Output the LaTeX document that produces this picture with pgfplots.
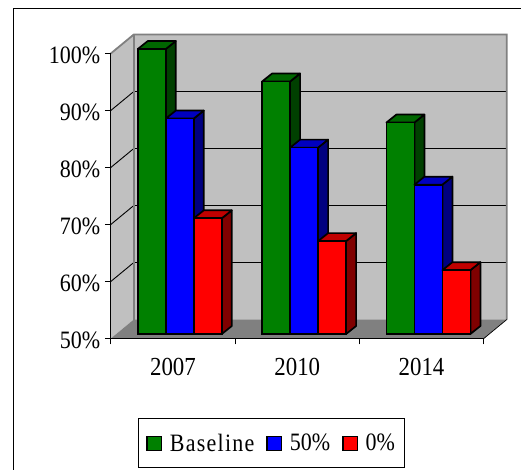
\documentclass[border=0pt]{standalone}
\usepackage{fontspec}
\setmainfont[FakeStretch=0.88]{Liberation Serif}
\usepackage{pgfplots}
\pgfplotsset{compat=1.18}
\definecolor{wall}{RGB}{192,192,192}
\definecolor{floorgray}{RGB}{128,128,128}
\definecolor{gfront}{RGB}{0,128,0}
\definecolor{gtop}{RGB}{0,102,0}
\definecolor{gside}{RGB}{0,64,0}
\definecolor{bfront}{RGB}{0,0,255}
\definecolor{btop}{RGB}{0,0,192}
\definecolor{bside}{RGB}{0,0,128}
\definecolor{rfront}{RGB}{255,0,0}
\definecolor{rtop}{RGB}{192,0,0}
\definecolor{rside}{RGB}{128,0,0}
\newcommand{\chartfont}{\fontsize{25}{27}\selectfont}
% Top and side faces of one bar: left edge, value, top colour, side colour
\newcommand{\barfaces}[4]{%
  \pgfmathsetmacro{\xa}{#1+28}%
  \pgfmathsetmacro{\xb}{#1+38}%
  \pgfmathsetmacro{\xc}{#1+10}%
  \pgfmathsetmacro{\vb}{#2+1.4}%
  \addplot[forget plot,yshift=4.5pt,fill=#4,draw=black,line width=1.7pt,line join=round]
    coordinates {(\xa,50) (\xb,51.4) (\xb,\vb) (\xa,#2)} --cycle;
  \addplot[forget plot,yshift=4.5pt,fill=#3,draw=black,line width=1.7pt,line join=round]
    coordinates {(#1,#2) (\xa,#2) (\xb,\vb) (\xc,\vb)} --cycle;
}
\pgfplotsset{swatch/.style={
  legend image code/.code={
    \draw[##1,yshift=-4.5pt,line width=1.5pt] (0pt,-7pt) rectangle (14.5pt,7pt);
  }}}
\begin{document}
\begin{tikzpicture}[x=1pt,y=1pt]
\path[use as bounding box] (0,0) rectangle (521,470);
\draw[black,line width=1.2pt] (13.5,0) -- (13.5,461.5) -- (521,461.5);
\begin{axis}[
  at={(110.8pt,131.5pt)}, anchor=south west,
  scale only axis, width=372.9pt, height=285pt,
  xmin=0, xmax=372.9, ymin=50, ymax=100,
  clip=false, axis on top,
  axis x line*=bottom, axis y line*=left,
  axis line style={-,line width=1pt},
  tick align=outside, major tick length=6pt,
  tick style={black,line width=1pt},
  xtick={0,124.3,248.6,372.9}, xticklabels={},
  extra x ticks={62.15,186.45,310.75},
  extra x tick labels={2007,2010,2014},
  extra x tick style={major tick length=0pt,xticklabel style={yshift=-16pt,font=\fontsize{26}{28}\selectfont}},
  ytick={50,60,70,80,90,100},
  yticklabels={50\%,60\%,70\%,80\%,90\%,100\%},
  yticklabel style={xshift=-1pt,yshift=-2pt},
  ticklabel style={font=\chartfont},
  legend columns=3,
  legend style={
    at={(axis cs:160.9,31.6)}, anchor=center,
    draw=black, line width=1pt, font=\chartfont,
    inner xsep=7.5pt, inner ysep=13pt,
    /tikz/every even column/.append style={column sep=10pt},
    /tikz/every odd column/.append style={column sep=5.5pt},
  },
  legend cell align=left,
]
% Box walls and floor
\addplot[forget plot,fill=wall,draw=none] coordinates {(23,53.33) (396,53.33) (396,103.33) (23,103.33)} --cycle;
\addplot[forget plot,fill=wall,draw=none] coordinates {(0,50) (23,53.33) (23,103.33) (0,100)} --cycle;
\addplot[forget plot,fill=floorgray,draw=none] coordinates {(0,50) (373,50) (396,53.33) (23,53.33)} --cycle;
% Grid lines on the side and back walls
\addplot[forget plot,black,line width=0.9pt] coordinates {(0,60) (23,63.33) (396,63.33)};
\addplot[forget plot,black,line width=0.9pt] coordinates {(0,70) (23,73.33) (396,73.33)};
\addplot[forget plot,black,line width=0.9pt] coordinates {(0,80) (23,83.33) (396,83.33)};
\addplot[forget plot,black,line width=0.9pt] coordinates {(0,90) (23,93.33) (396,93.33)};
% Box outline
\addplot[forget plot,floorgray,line width=1.8pt] coordinates {(0,100) (23,103.33) (396,103.33) (396,53.33)};
\addplot[forget plot,floorgray,line width=1.8pt] coordinates {(23,53.33) (23,103.33)};
\addplot[forget plot,black,line width=0.7pt] coordinates {(373,50) (396,53.33)};

% Baseline
\barfaces{27}{100}{gtop}{gside}
\barfaces{151.3}{94.3}{gtop}{gside}
\barfaces{275.6}{87.1}{gtop}{gside}
\addplot[swatch,ybar,bar width=28pt,bar shift=-28pt,yshift=4.5pt,fill=gfront,draw=black,line width=1.7pt]
  coordinates {(69,100) (193.3,94.3) (317.6,87.1)};
\addlegendentry{\addfontfeature{LetterSpace=5}Baseline}
% 50%
\barfaces{55}{87.8}{btop}{bside}
\barfaces{179.3}{82.7}{btop}{bside}
\barfaces{303.6}{76.2}{btop}{bside}
\addplot[swatch,ybar,bar width=28pt,bar shift=0pt,yshift=4.5pt,fill=bfront,draw=black,line width=1.7pt]
  coordinates {(69,87.8) (193.3,82.7) (317.6,76.2)};
\addlegendentry{50\%\hspace{2pt}}
% 0%
\barfaces{83}{70.3}{rtop}{rside}
\barfaces{207.3}{66.3}{rtop}{rside}
\barfaces{331.6}{61.2}{rtop}{rside}
\addplot[swatch,ybar,bar width=28pt,bar shift=28pt,yshift=4.5pt,fill=rfront,draw=black,line width=1.7pt]
  coordinates {(69,70.3) (193.3,66.3) (317.6,61.2)};
\addlegendentry{0\%\hspace{3pt}}
\end{axis}
\end{tikzpicture}
\end{document}
